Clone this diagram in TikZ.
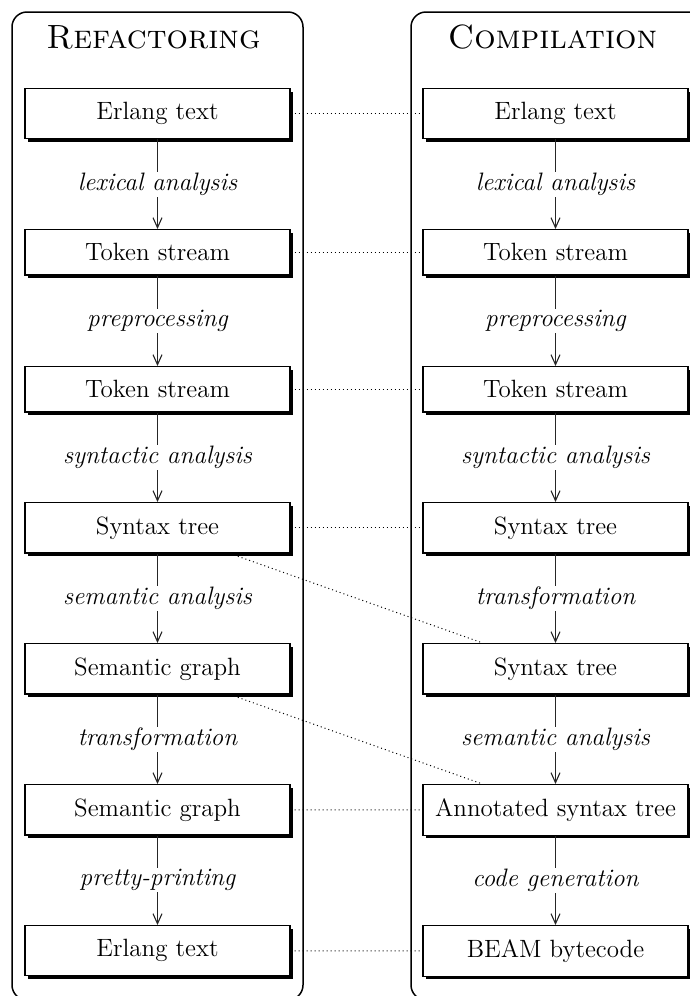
\documentclass[tikz,border=0pt]{standalone}
\usepackage{fontspec}
\usetikzlibrary{shadows,arrows.meta,backgrounds}
\begin{document}
\begin{tikzpicture}[x=0.5pt,y=-0.5pt,
  box/.style={draw=black, line width=0.65pt, fill=white, minimum width=132.5pt,
    inner xsep=2pt, inner ysep=6.9pt, font=\fontsize{12.5}{15}\selectfont,
    drop shadow={shadow xshift=1.5pt, shadow yshift=-1.5pt, fill=black, opacity=1},
    anchor=north},
  lbl/.style={fill=white, inner sep=0.6pt, font=\fontsize{12.6}{15}\selectfont\itshape},
  flow/.style={draw=black!85, line width=0.55pt, -{Straight Barb[length=5pt,width=4.5pt]}},
  link/.style={line width=0.5pt, dash pattern=on 0.5pt off 1.5pt},
  panel/.style={draw, line width=0.75pt, rounded corners=7.5pt},
  ttl/.style={font=\fontsize{16.8}{20}\selectfont\scshape, anchor=base}
]
\useasboundingbox (0,0) rectangle (690,996);
\clip (0,0) rectangle (690,996);

% panels
\draw[panel] (12,12) rectangle (303,1000);
\draw[panel] (411,12) rectangle (720,1000);

% titles
\node[ttl] (tl) at (153.5,48) {Refactoring};
\node[ttl] (tr) at (552.5,48) {Compilation};

% left column
\node[box] (l1) at (157.5,88)  {Erlang text};
\node[box] (l2) at (157.5,229) {Token stream};
\node[box] (l3) at (157.5,366) {Token stream};
\node[box] (l4) at (157.5,502) {Syntax tree};
\node[box] (l5) at (157.5,643) {Semantic graph};
\node[box] (l6) at (157.5,784) {Semantic graph};
\node[box] (l7) at (157.5,925) {Erlang text};

% right column
\node[box] (r1) at (555.5,88)  {Erlang text};
\node[box] (r2) at (555.5,229) {Token stream};
\node[box] (r3) at (555.5,366) {Token stream};
\node[box] (r4) at (555.5,502) {Syntax tree};
\node[box] (r5) at (555.5,643) {Syntax tree};
\node[box] (r6) at (555.5,784) {Annotated syntax tree};
\node[box] (r7) at (555.5,925) {BEAM bytecode};

% flows left
\draw[flow] (l1) -- node[lbl] {lexical analysis} (l2);
\draw[flow] (l2) -- node[lbl] {preprocessing} (l3);
\draw[flow] (l3) -- node[lbl] {syntactic analysis} (l4);
\draw[flow] (l4) -- node[lbl] {semantic analysis} (l5);
\draw[flow] (l5) -- node[lbl] {transformation} (l6);
\draw[flow] (l6) -- node[lbl] {pretty-printing} (l7);

% flows right
\draw[flow] (r1) -- node[lbl] {lexical analysis} (r2);
\draw[flow] (r2) -- node[lbl] {preprocessing} (r3);
\draw[flow] (r3) -- node[lbl] {syntactic analysis} (r4);
\draw[flow] (r4) -- node[lbl] {transformation} (r5);
\draw[flow] (r5) -- node[lbl] {semantic analysis} (r6);
\draw[flow] (r6) -- node[lbl] {code generation} (r7);

% correspondences
\begin{scope}[on background layer]
\draw[link] (l1) -- (r1);
\draw[link] (l2) -- (r2);
\draw[link] (l3) -- (r3);
\draw[link] (l4) -- (r4);
\draw[link] (l4) -- (r5);
\draw[link] (l5) -- (r6);
\draw[link] (l6) -- (r6);
\draw[link] (l7) -- (r7);
\end{scope}
\end{tikzpicture}
\end{document}
